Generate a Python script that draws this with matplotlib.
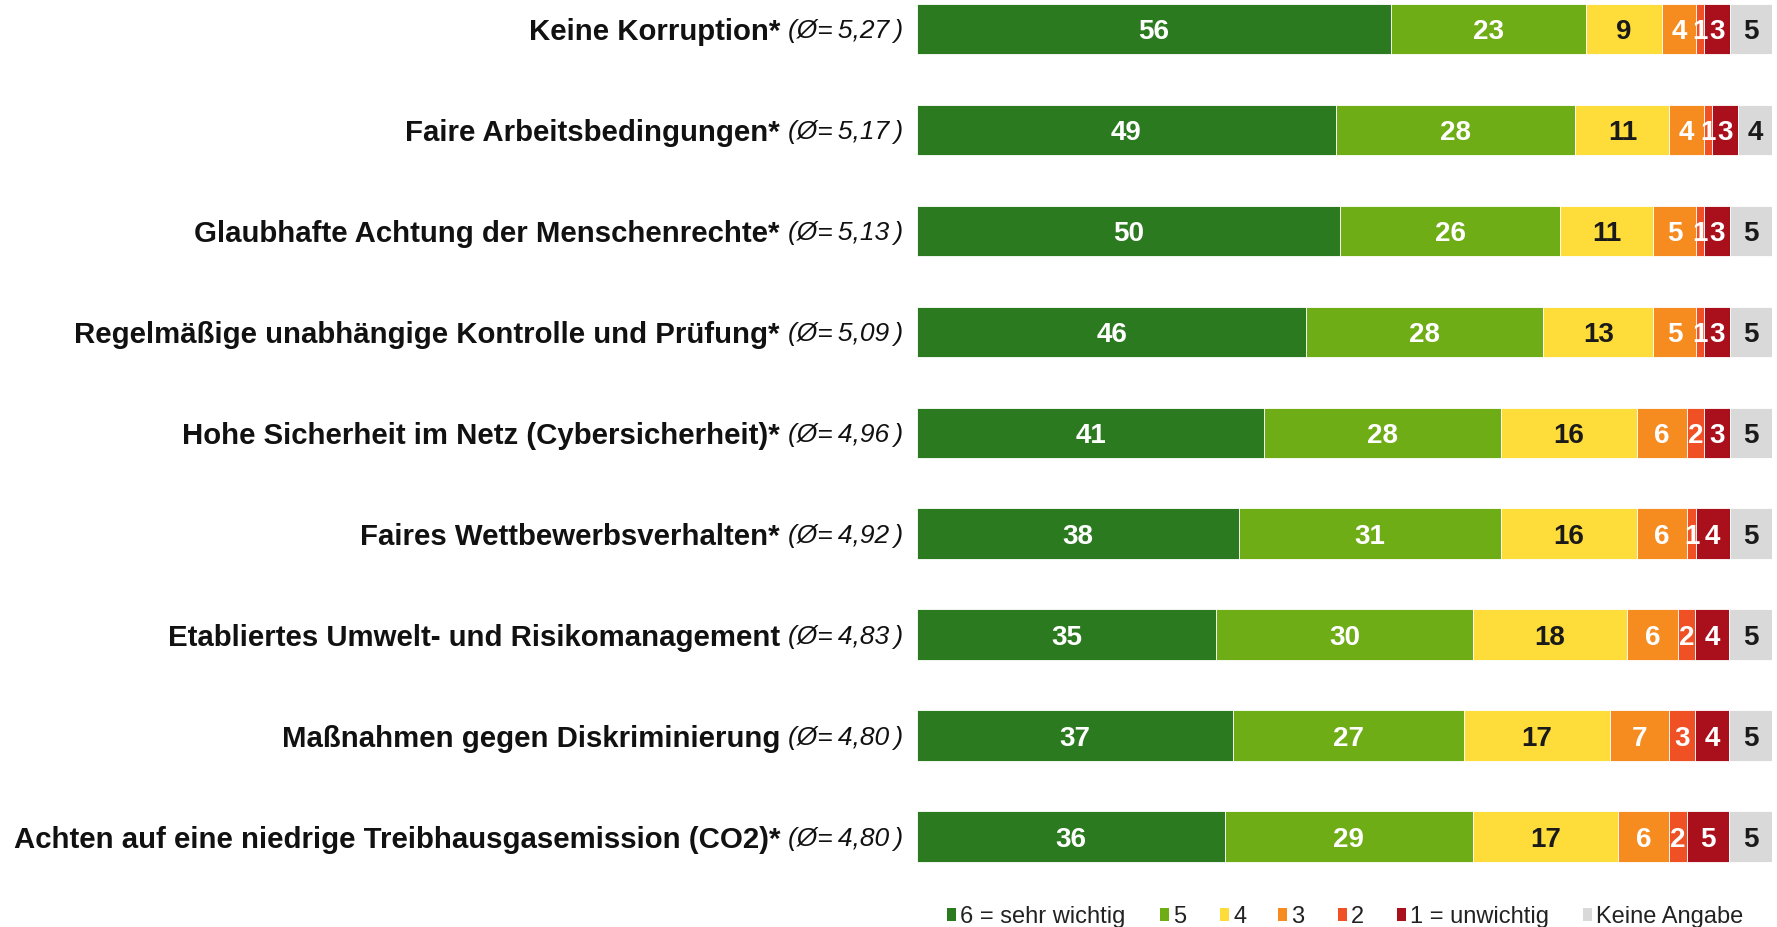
import matplotlib
matplotlib.use("Agg")
import matplotlib.pyplot as plt
import matplotlib.transforms as mtransforms
from matplotlib.patches import Rectangle
import numpy as np

categories = ["Keine Korruption*", "Faire Arbeitsbedingungen*",
              "Glaubhafte Achtung der Menschenrechte*",
              "Regelmäßige unabhängige Kontrolle und Prüfung*",
              "Hohe Sicherheit im Netz (Cybersicherheit)*",
              "Faires Wettbewerbsverhalten*",
              "Etabliertes Umwelt- und Risikomanagement",
              "Maßnahmen gegen Diskriminierung",
              "Achten auf eine niedrige Treibhausgasemission (CO2)*"]
averages = ["5,27", "5,17", "5,13", "5,09", "4,96", "4,92", "4,83", "4,80", "4,80"]
v6 = [56, 49, 50, 46, 41, 38, 35, 37, 36]
v5 = [23, 28, 26, 28, 28, 31, 30, 27, 29]
v4 = [9, 11, 11, 13, 16, 16, 18, 17, 17]
v3 = [4, 4, 5, 5, 6, 6, 6, 7, 6]
v2 = [1, 1, 1, 1, 2, 1, 2, 3, 2]
v1 = [3, 3, 3, 3, 3, 4, 4, 4, 5]
vna = [5, 4, 5, 5, 5, 5, 5, 5, 5]
series_names = ["6 = sehr wichtig", "5", "4", "3", "2", "1 = unwichtig", "Keine Angabe"]

colors = ["#2B7A1F", "#6FAD16", "#FEDD3A", "#F68B20", "#EF5125", "#AA0F1C", "#D9D9D9"]
text_colors = ["white", "white", "#1a1a1a", "white", "white", "white", "#1a1a1a"]

W, H = 1777, 927
fig = plt.figure(figsize=(W / 100, H / 100), dpi=100)
plt.rcParams['font.family'] = ['Liberation Sans', 'DejaVu Sans']

x0, x1 = 917, 1772
top_px, bot_px = -1.5, 867.0
ax = fig.add_axes([x0 / W, 1 - bot_px / H, (x1 - x0) / W, (bot_px - top_px) / H])

data = np.array([v6, v5, v4, v3, v2, v1, vna], dtype=float)
totals = data.sum(axis=0)
pct = data / totals * 100
y = np.arange(len(categories))
left = np.zeros(len(categories))
for i in range(data.shape[0]):
    ax.barh(y, pct[i], left=left, height=0.5, color=colors[i],
            edgecolor="white", linewidth=0.6)
    for j in range(len(categories)):
        ax.text(left[j] + pct[i][j] / 2, y[j], f"{int(data[i][j])}",
                ha="center", va="center_baseline", color=text_colors[i],
                fontsize=20, fontweight="bold")
    left += pct[i]

ax.set_xlim(0, 100)
ax.set_ylim(8.3, -0.3)
ax.axis("off")

trans = mtransforms.blended_transform_factory(fig.transFigure, ax.transData)
for j, (c, a) in enumerate(zip(categories, averages)):
    ax.text(780 / W, y[j], c, transform=trans, ha="right", va="center_baseline",
            fontsize=21.2, fontweight="bold", color="#111111")
    ax.text(903 / W, y[j], f"(Ø=\u2009{a}\u2009)", transform=trans, ha="right",
            va="center_baseline", fontsize=19, fontstyle="italic", color="#111111")

# legend
leg_x = [947, 1160, 1220, 1278, 1338, 1397, 1583]
leg_y = 915
for i, name in enumerate(series_names):
    fig.patches.append(Rectangle(((leg_x[i]) / W, 1 - (leg_y + 6) / H), 9 / W, 13 / H,
                                 transform=fig.transFigure, facecolor=colors[i],
                                 edgecolor="none"))
    fig.text((leg_x[i] + 13) / W, 1 - (leg_y + 2) / H, name, ha="left", va="center",
             fontsize=17, color="#222222")

fig.savefig("out.png", dpi=100, facecolor="white")
